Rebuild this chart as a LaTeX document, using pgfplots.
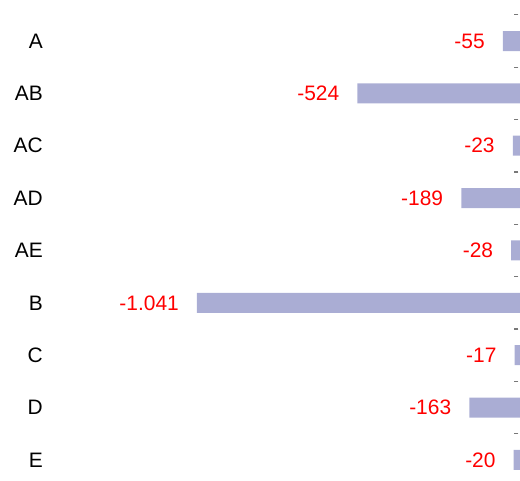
\documentclass[border=0pt]{standalone}
\usepackage{pgfplots}
\pgfplotsset{compat=1.18}
\usepackage{fontspec}
\setmainfont{Liberation Sans}
\definecolor{barc}{RGB}{170,173,212}
\definecolor{lblred}{RGB}{255,0,0}
\definecolor{tickc}{RGB}{120,120,120}
\pgfplotstableread{
idx val
0 -55
1 -524
2 -23
3 -189
4 -28
5 -1041
6 -17
7 -163
8 -20
}\datatable
\begin{document}
\begin{tikzpicture}
\begin{axis}[
  xbar,
  scale only axis,
  width=520bp, height=481bp,
  xmin=-1676, xmax=0,
  ymin=-0.783, ymax=8.40,
  y dir=reverse,
  ytick={0,1,2,3,4,5,6,7,8},
  yticklabels={A,AB,AC,AD,AE,B,C,D,E},
  minor ytick={-0.5,0.5,1.5,2.5,3.5,4.5,5.5,6.5,7.5},
  major tick length=0pt,
  minor tick length=4bp,
  ytick pos=right,
  yticklabel pos=left,
  tick align=inside,
  minor y tick style={tickc, line width=1.2bp, xshift=-1.5bp},
  xtick=\empty,
  axis line style={draw=none},
  bar width=20bp,
  yticklabel style={anchor=east, inner sep=0pt, xshift=43bp, font=\fontsize{21}{25}\selectfont},
  point meta=x,
  nodes near coords={\pgfmathprintnumber[1000 sep={.}]{\pgfplotspointmeta}},
  every node near coord/.append style={anchor=east, text=lblred, inner sep=0pt, xshift=-18bp, font=\fontsize{21}{25}\selectfont},
  /pgf/number format/assume math mode=true,
]
\addplot[fill=barc, draw=none] table[x=val, y=idx] {\datatable};
\end{axis}
\end{tikzpicture}
\end{document}
